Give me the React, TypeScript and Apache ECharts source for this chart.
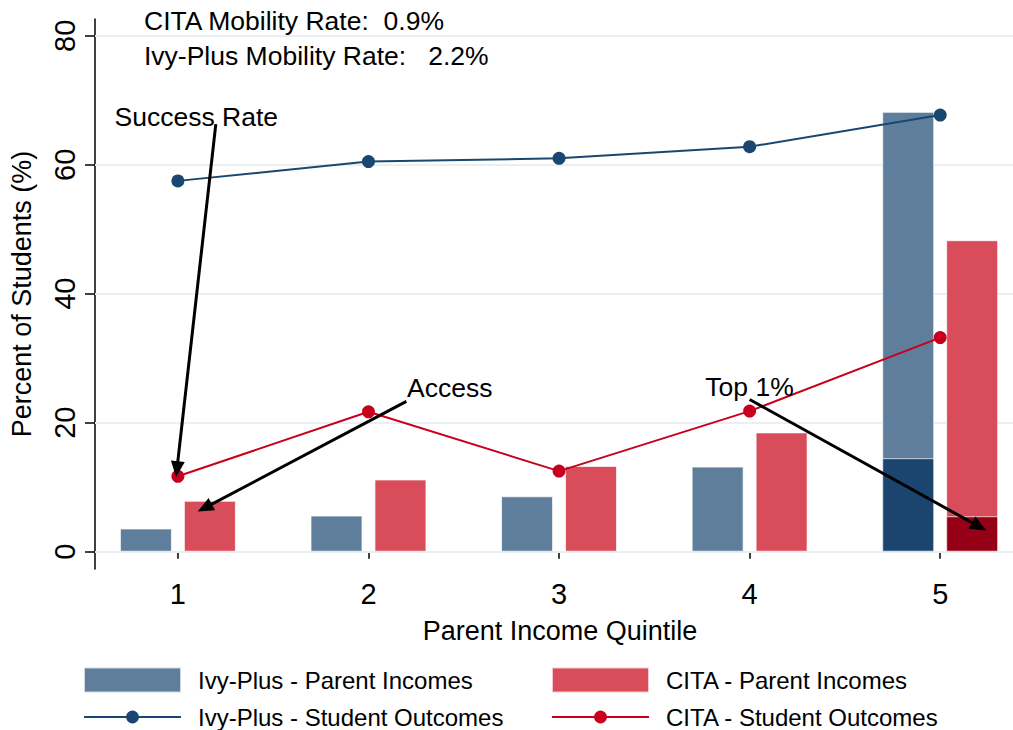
import React, { useEffect, useRef } from "react";
import * as echarts from "echarts";

// ---- Data ----
const quintiles = [1, 2, 3, 4, 5];
const ivyParent = [3.6, 5.6, 8.6, 13.2, 68.2];
const citaParent = [7.9, 11.2, 13.3, 18.5, 48.3];
const ivyTop1 = [null, null, null, null, 14.5];
const citaTop1 = [null, null, null, null, 5.5];
const ivyOutcome = [57.5, 60.5, 61.0, 62.8, 67.7];
const citaOutcome = [11.7, 21.7, 12.5, 21.8, 33.2];
const yTicks = [0, 20, 40, 60, 80];
const xTicks = [1, 2, 3, 4, 5];
const mobilityNotes = ["CITA Mobility Rate:  0.9%", "Ivy-Plus Mobility Rate:   2.2%"];
const annotationLabels = ["Success Rate", "Access", "Top 1%"];
// annotation anchors in data space [x, y]
const annotationAnchors = [
  [0.665, 67.4],
  [2.2, 25.4],
  [3.765, 25.6],
];
const arrowStarts = [
  [1.199, 66.3],
  [2.199, 23.3],
  [4.0, 23.6],
];
const arrowEnds = [
  [0.995, 12.8],
  [1.141, 6.8],
  [5.204, 3.9],
];

const FONT = "'Liberation Sans', Arial, sans-serif";
const IVY = "#5f7e9b";
const IVY_DARK = "#1b456e";
const CITA = "#d94d5b";
const CITA_DARK = "#950016";
const IVY_LINE = "#1a476f";
const CITA_LINE = "#c8001e";

export default function App() {
  const ref = useRef<HTMLDivElement>(null);
  useEffect(() => {
    document.body.style.margin = "0";
    const chart = echarts.init(ref.current!, null, { renderer: "svg" });
    const pair = (arr: (number | null)[]) =>
      quintiles.map((q, i) => [q, arr[i]]).filter((d) => d[1] != null);
    const barBorder = { borderColor: "rgba(255,255,255,0.7)", borderWidth: 1 };
    const legendText = { fontSize: 24, color: "#000", fontFamily: FONT, lineHeight: 24, padding: [0, 0, 0, 12] };
    const barLegend = (name: string, left: number) => ({
      left,
      top: 666.5,
      padding: 0,
      itemWidth: 97,
      itemHeight: 25,
      icon: "rect",
      data: [name],
      textStyle: legendText,
    });
    const lineLegend = (name: string, left: number) => ({
      left,
      top: 705,
      padding: 0,
      itemWidth: 97,
      itemHeight: 16,
      data: [name],
      textStyle: legendText,
    });
    const xAxisBase = { type: "value", min: 0.565, max: 5.382 };

    chart.setOption({
      animation: false,
      backgroundColor: "#ffffff",
      textStyle: { fontFamily: FONT },
      grid: { left: 93, top: 19, right: 0, height: 550, containLabel: false },
      xAxis: [
        {
          ...xAxisBase,
          name: "Parent Income Quintile",
          nameLocation: "middle",
          nameGap: 48,
          nameTextStyle: { fontSize: 27, color: "#000", fontFamily: FONT, padding: [0, 0, 0, 12] },
          axisLine: { show: true, lineStyle: { color: "#000", width: 1.5 } },
          axisTick: { show: true, length: 7, customValues: xTicks, lineStyle: { color: "#000", width: 1.5 } },
          axisLabel: { customValues: xTicks, fontSize: 29, color: "#000", margin: 10, fontFamily: FONT },
          splitLine: { show: false },
        },
        {
          ...xAxisBase,
          show: false,
          splitLine: { show: false },
        },
      ],
      yAxis: {
        type: "value",
        min: -2.68,
        max: 82.6,
        name: "Percent of Students (%)",
        nameLocation: "middle",
        nameGap: 60,
        nameRotate: 90,
        nameTextStyle: { fontSize: 27, color: "#000", fontFamily: FONT },
        axisLine: { show: true, lineStyle: { color: "#000", width: 1.5 } },
        axisTick: { show: true, length: 10, customValues: yTicks, lineStyle: { color: "#000", width: 1.5 } },
        axisLabel: { customValues: yTicks, fontSize: 29, color: "#000", rotate: 90, margin: 16, fontFamily: FONT },
        splitLine: { show: false },
      },
      legend: [
        barLegend("Ivy-Plus - Parent Incomes", 83),
        barLegend("CITA - Parent Incomes", 551),
        lineLegend("Ivy-Plus - Student Outcomes", 83),
        lineLegend("CITA - Student Outcomes", 551),
      ],
      graphic: mobilityNotes.map((t, i) => ({
        type: "text",
        x: 144,
        y: 21 + i * 35,
        style: { text: t, fontSize: 26.5, fill: "#000", fontFamily: FONT, verticalAlign: "middle" },
        z: 20,
      })),
      series: [
        {
          name: "Ivy-Plus - Parent Incomes",
          type: "bar",
          xAxisIndex: 0,
          barWidth: 52,
          barGap: "23%",
          z: 2,
          itemStyle: { color: IVY, ...barBorder },
          data: pair(ivyParent),
          markLine: {
            silent: true,
            z: 1,
            symbol: "none",
            label: { show: false },
            lineStyle: { color: "#e8f0f3", width: 2, type: "solid" },
            data: yTicks.map((v) => ({ yAxis: v })),
          },
        },
        {
          name: "CITA - Parent Incomes",
          type: "bar",
          xAxisIndex: 0,
          barWidth: 52,
          barGap: "23%",
          z: 2,
          itemStyle: { color: CITA, ...barBorder },
          data: pair(citaParent),
        },
        {
          name: "Ivy-Plus - Top 1%",
          type: "bar",
          xAxisIndex: 1,
          barWidth: 52,
          barGap: "23%",
          z: 3,
          itemStyle: { color: IVY_DARK, ...barBorder },
          data: pair(ivyTop1),
        },
        {
          name: "CITA - Top 1%",
          type: "bar",
          xAxisIndex: 1,
          barWidth: 52,
          barGap: "23%",
          z: 3,
          itemStyle: { color: CITA_DARK, ...barBorder },
          data: pair(citaTop1),
        },
        {
          name: "Ivy-Plus - Student Outcomes",
          type: "line",
          z: 5,
          symbol: "circle",
          symbolSize: 13,
          color: IVY_LINE,
          lineStyle: { color: IVY_LINE, width: 2 },
          itemStyle: { color: IVY_LINE },
          data: pair(ivyOutcome),
        },
        {
          name: "CITA - Student Outcomes",
          type: "line",
          z: 5,
          symbol: "circle",
          symbolSize: 13,
          color: CITA_LINE,
          lineStyle: { color: CITA_LINE, width: 2 },
          itemStyle: { color: CITA_LINE },
          data: pair(citaOutcome),
        },
        {
          name: "annotations",
          type: "line",
          z: 10,
          data: [],
          markLine: {
            silent: true,
            z: 10,
            symbol: ["none", "triangle"],
            symbolSize: [14, 16],
            label: { show: false },
            lineStyle: { color: "#000", width: 3, type: "solid" },
            itemStyle: { color: "#000" },
            data: arrowStarts.map((s, i) => [{ coord: s }, { coord: arrowEnds[i] }]),
          },
          markPoint: {
            silent: true,
            z: 11,
            symbol: "circle",
            symbolSize: 1,
            itemStyle: { color: "rgba(0,0,0,0)" },
            label: {
              show: true,
              position: "right",
              distance: 0,
              color: "#000",
              fontSize: 26.5,
              fontFamily: FONT,
            },
            data: annotationLabels.map((t, i) => ({
              coord: annotationAnchors[i],
              value: t,
              label: { formatter: t },
            })),
          },
        },
      ],
    });
    return () => chart.dispose();
  }, []);
  return <div ref={ref} style={{ width: 1013, height: 730 }} />;
}
